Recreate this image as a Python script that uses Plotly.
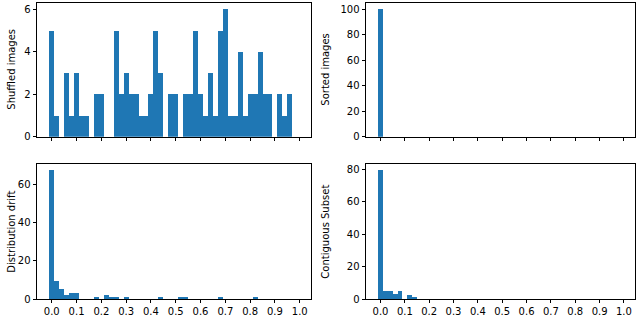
import numpy as np
import plotly.graph_objects as go

# ---- data (histogram counts, 50 bins of width 0.02 starting at -0.01) ----
bin_start = -0.01
bin_width = 0.02

shuffled_counts = [5, 1, 0, 3, 1, 3, 1, 1, 0, 2,
                   2, 0, 0, 5, 2, 3, 2, 2, 1, 1,
                   2, 5, 3, 0, 2, 2, 0, 2, 2, 5,
                   2, 1, 3, 1, 5, 6, 1, 1, 4, 1,
                   2, 2, 4, 2, 2, 0, 2, 1, 2, 0]
sorted_counts = [100] + [0] * 49
drift_counts = [67, 9, 5, 2, 3, 3, 0, 0, 0, 1,
                0, 2, 1, 1, 0, 1, 0, 0, 0, 0,
                0, 0, 1, 0, 0, 0, 1, 1, 0, 0,
                0, 0, 0, 0, 1, 0, 0, 0, 0, 0,
                0, 1, 0, 0, 0, 0, 0, 0, 0, 0]
contiguous_counts = [79, 5, 5, 3, 5, 0, 2, 1] + [0] * 42

panel_titles = ["Shuffled images", "Sorted images", "Distribution drift", "Contiguous Subset"]
x_tick_vals = [0.0, 0.1, 0.2, 0.3, 0.4, 0.5, 0.6, 0.7, 0.8, 0.9, 1.0]
x_tick_text = ["0.0", "0.1", "0.2", "0.3", "0.4", "0.5", "0.6", "0.7", "0.8", "0.9", "1.0"]
y_tick_vals = [[0, 2, 4, 6], [0, 20, 40, 60, 80, 100], [0, 20, 40, 60], [0, 20, 40, 60, 80]]

series = [shuffled_counts, sorted_counts, drift_counts, contiguous_counts]

# ---- layout geometry ----
W, H = 640, 316
x_doms = [[37 / W, 311 / W], [366 / W, 635 / W]]
y_doms = [[1 - 136.7 / H, 1 - 2.7 / H], [1 - 299 / H, 1 - 164.3 / H]]

BLUE = "#1f77b4"
FONT = "DejaVu Sans"

centers = bin_start + bin_width * (np.arange(50) + 0.5)

fig = go.Figure()
annotations = []
for i, counts in enumerate(series):
    row, col = divmod(i, 2)
    ax = "" if i == 0 else str(i + 1)
    fig.add_trace(go.Bar(
        x=centers, y=counts, width=bin_width,
        marker=dict(color=BLUE, line=dict(width=0)),
        xaxis="x" + ax, yaxis="y" + ax, showlegend=False,
    ))
    ymax = max(counts) * 1.05
    common = dict(showline=True, mirror=True, linecolor="black", linewidth=0.8,
                  ticks="outside", ticklen=3.5, tickwidth=0.8, tickcolor="black",
                  showgrid=False, zeroline=False, automargin=False,
                  tickfont=dict(family=FONT, size=10, color="black"))
    fig.layout["xaxis" + ax] = dict(
        domain=x_doms[col], anchor="y" + ax, range=[-0.0595, 1.0455],
        tickvals=x_tick_vals, ticktext=x_tick_text,
        showticklabels=(row == 1), **common)
    fig.layout["yaxis" + ax] = dict(
        domain=y_doms[row], anchor="x" + ax, range=[0, ymax],
        tickvals=y_tick_vals[i], **common)
    annotations.append(dict(
        text=panel_titles[i], textangle=-90, xref="paper", yref="paper",
        x=(12 if col == 0 else 326) / W, y=sum(y_doms[row]) / 2,
        xanchor="center", yanchor="middle", showarrow=False,
        font=dict(family=FONT, size=10, color="black")))

fig.update_layout(
    width=W, height=H, margin=dict(l=0, r=0, t=0, b=0),
    paper_bgcolor="white", plot_bgcolor="white",
    bargap=0, annotations=annotations,
)
fig.write_html("out.html", config={"displayModeBar": False},
               post_script="document.body.style.margin='0px';")
